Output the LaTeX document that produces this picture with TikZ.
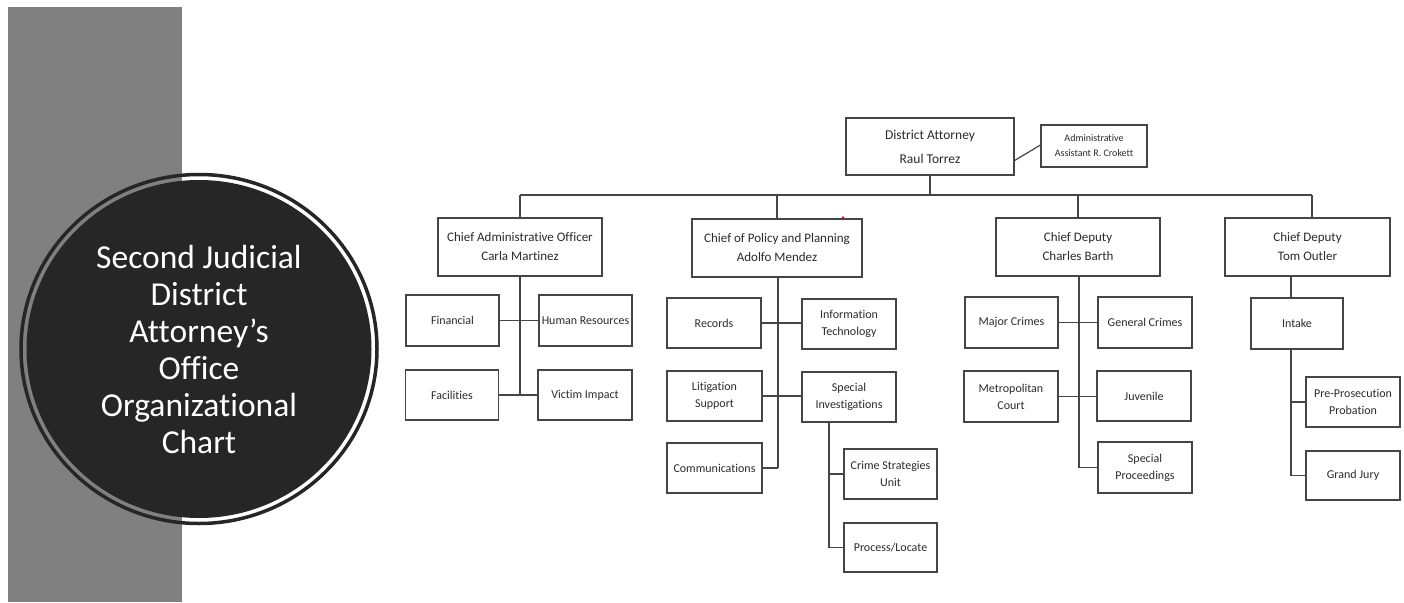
\documentclass[tikz,border=0pt]{standalone}
\usepackage{fontspec}
\setmainfont{Carlito}[Ligatures=NoCommon]
\definecolor{linec}{HTML}{454545}
\definecolor{textc}{HTML}{2B2B2B}
\definecolor{barc}{HTML}{808080}
\definecolor{discc}{HTML}{262626}
\begin{document}
\begin{tikzpicture}[x=1pt,y=-1pt,
  box/.style={draw=linec, line width=1.2pt, fill=white, text=textc, align=center, inner sep=1pt},
  topbox/.style={box, minimum width=168pt, minimum height=57pt, font=\fontsize{13.5}{24}\selectfont},
  asstbox/.style={box, minimum width=106pt, minimum height=42pt, font=\fontsize{10}{15}\selectfont},
  chiefbox/.style={box, minimum width=164pt, minimum height=58pt, font=\fontsize{13}{19}\selectfont},
  unitbox/.style={box, minimum width=93pt, minimum height=50pt, font=\fontsize{12}{17}\selectfont},
  conn/.style={draw=linec, line width=1.2pt},
  title/.style={text=white, align=center, font=\fontsize{33.5}{37}\selectfont}
]
\useasboundingbox (0,0) rectangle (1404,602);
% left band and disc
\fill[barc] (8,7) rectangle (182,602);
\draw[discc, line width=3.5pt] (199,349) ellipse [x radius=178pt, y radius=174.5pt];
\fill[discc] (199,349) ellipse [x radius=172.5pt, y radius=169pt];
\node[title] (title) at (199,349) {Second Judicial\\District\\Attorney’s\\Office\\Organizational\\Chart};

% top
\node[topbox] (da) at (930,146.5) {District Attorney\\Raul Torrez};
\node[asstbox] (aa) at (1094,146) {Administrative\\Assistant R. Crokett};
\draw[conn] ([yshift=-14pt]da.east) -- ([yshift=1pt]aa.west);

% chiefs
\node[chiefbox] (cao) at (520,247) {Chief Administrative Officer\\Carla Martinez};
\node[chiefbox, minimum width=170pt] (cpp) at (777,248) {Chief of Policy and Planning\\Adolfo Mendez};
\node[chiefbox] (barth) at (1078,247) {Chief Deputy\\Charles Barth};
\node[chiefbox, minimum width=165pt] (outler) at (1307.5,247) {Chief Deputy\\Tom Outler};
\fill[red] (843,217.5) circle (1.4pt);

\coordinate (busL) at (520,195);
\coordinate (busR) at (1312,195);
\draw[conn] (da.south) -- (da.south |- busL);
\draw[conn] (busL) -- (busR);
\draw[conn] (busL) -- (cao.north);
\draw[conn] (cpp.north |- busL) -- (cpp.north);
\draw[conn] (barth.north |- busL) -- (barth.north);
\draw[conn] (busR) -- (busR |- outler.north);

% CAO units
\node[unitbox, minimum height=51pt] (fin) at (452.5,320.5) {Financial};
\node[unitbox, minimum height=51pt] (hr) at (585.5,320.5) {Human Resources};
\node[unitbox] (fac) at (452,395) {Facilities};
\node[unitbox, minimum width=94pt] (vic) at (585,395) {Victim Impact};
\draw[conn] (cao.south) -- (cao.south |- fac.east);
\draw[conn] (fin.east) -- (hr.west);
\draw[conn] (fac.east) -- (vic.west);

% CPP units
\node[unitbox, minimum width=94pt] (rec) at (714,323) {Records};
\node[unitbox, minimum width=94pt] (it) at (849,324) {Information\\Technology};
\node[unitbox, minimum width=95pt] (lit) at (714.5,396) {Litigation\\Support};
\node[unitbox, minimum width=94pt] (si) at (849,397) {Special\\Investigations};
\node[unitbox, minimum width=95pt] (com) at (714.5,468) {Communications};
\node[unitbox] (csu) at (890.5,474) {Crime Strategies\\Unit};
\node[unitbox, minimum height=49pt] (pl) at (890.5,547.5) {Process/Locate};
\coordinate (cppx) at (778,0);
\draw[conn] (cppx |- cpp.south) -- (cppx |- com.east);
\draw[conn] (com.east) -- (cppx |- com.east);
\draw[conn] (rec.east) -- (rec.east -| it.west);
\draw[conn] (lit.east) -- (lit.east -| si.west);
\coordinate (six) at (829,0);
\draw[conn] (six |- si.south) -- (six |- pl.west);
\draw[conn] (six |- csu.west) -- (csu.west);
\draw[conn] (six |- pl.west) -- (pl.west);

% Barth units
\node[unitbox, minimum height=51pt] (maj) at (1011.5,322.5) {Major Crimes};
\node[unitbox, minimum width=94pt, minimum height=51pt] (gen) at (1145,322.5) {General Crimes};
\node[unitbox, minimum width=94pt, minimum height=51pt] (met) at (1011,396.5) {Metropolitan\\Court};
\node[unitbox, minimum width=94pt] (juv) at (1144,396) {Juvenile};
\node[unitbox, minimum width=94pt, minimum height=51pt] (sp) at (1145,467.5) {Special\\Proceedings};
\coordinate (bx) at (1079,0);
\draw[conn] (bx |- barth.south) -- (bx |- sp.west);
\draw[conn] (bx |- sp.west) -- (sp.west);
\draw[conn] (maj.east) -- (maj.east -| gen.west);
\draw[conn] (met.east) -- (met.east -| juv.west);

% Outler units
\node[unitbox, minimum width=92pt, minimum height=51pt] (intake) at (1297,323.5) {Intake};
\node[unitbox, minimum width=94pt] (ppp) at (1353,402) {Pre-Prosecution\\Probation};
\node[unitbox, minimum width=94pt, minimum height=49pt] (gj) at (1353,475.5) {Grand Jury};
\coordinate (ox) at (1291,0);
\draw[conn] (ox |- outler.south) -- (ox |- intake.north);
\draw[conn] (ox |- intake.south) -- (ox |- gj.west);
\draw[conn] (ox |- ppp.west) -- (ppp.west);
\draw[conn] (ox |- gj.west) -- (gj.west);
\end{tikzpicture}
\end{document}
